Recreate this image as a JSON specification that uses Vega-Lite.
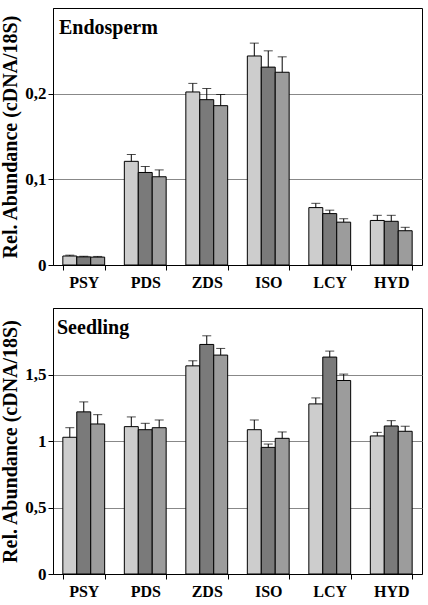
{
  "$schema": "https://vega.github.io/schema/vega-lite/v6.json",
  "padding": {"top": 7, "left": 0, "right": 2, "bottom": 2},
  "background": "white",
  "spacing": 16,
  "config": {
    "font": "Liberation Serif",
    "view": {"stroke": "black", "strokeWidth": 1},
    "axis": {"labelFont": "Liberation Serif", "titleFont": "Liberation Serif", "labelFontWeight": "bold", "titleFontWeight": "bold", "labelColor": "black", "titleColor": "black", "domainColor": "black", "tickColor": "black"},
    "title": {"font": "Liberation Serif", "fontWeight": "bold", "color": "black"}
  },
  "datasets": {
    "endo": [
      {"gene": "PSY", "cond": "A", "v": 0.0105, "hi": 0.0115},
      {"gene": "PSY", "cond": "B", "v": 0.0095, "hi": 0.0102},
      {"gene": "PSY", "cond": "C", "v": 0.0092, "hi": 0.0100},
      {"gene": "PDS", "cond": "A", "v": 0.121, "hi": 0.129},
      {"gene": "PDS", "cond": "B", "v": 0.108, "hi": 0.115},
      {"gene": "PDS", "cond": "C", "v": 0.103, "hi": 0.111},
      {"gene": "ZDS", "cond": "A", "v": 0.202, "hi": 0.212},
      {"gene": "ZDS", "cond": "B", "v": 0.193, "hi": 0.206},
      {"gene": "ZDS", "cond": "C", "v": 0.186, "hi": 0.199},
      {"gene": "ISO", "cond": "A", "v": 0.244, "hi": 0.259},
      {"gene": "ISO", "cond": "B", "v": 0.231, "hi": 0.250},
      {"gene": "ISO", "cond": "C", "v": 0.225, "hi": 0.243},
      {"gene": "LCY", "cond": "A", "v": 0.067, "hi": 0.072},
      {"gene": "LCY", "cond": "B", "v": 0.060, "hi": 0.064},
      {"gene": "LCY", "cond": "C", "v": 0.050, "hi": 0.054},
      {"gene": "HYD", "cond": "A", "v": 0.052, "hi": 0.058},
      {"gene": "HYD", "cond": "B", "v": 0.051, "hi": 0.058},
      {"gene": "HYD", "cond": "C", "v": 0.040, "hi": 0.044}
    ],
    "seed": [
      {"gene": "PSY", "cond": "A", "v": 1.028, "hi": 1.10},
      {"gene": "PSY", "cond": "B", "v": 1.219, "hi": 1.294},
      {"gene": "PSY", "cond": "C", "v": 1.128, "hi": 1.198},
      {"gene": "PDS", "cond": "A", "v": 1.108, "hi": 1.181},
      {"gene": "PDS", "cond": "B", "v": 1.085, "hi": 1.133},
      {"gene": "PDS", "cond": "C", "v": 1.10, "hi": 1.158},
      {"gene": "ZDS", "cond": "A", "v": 1.565, "hi": 1.603},
      {"gene": "ZDS", "cond": "B", "v": 1.726, "hi": 1.791},
      {"gene": "ZDS", "cond": "C", "v": 1.646, "hi": 1.696},
      {"gene": "ISO", "cond": "A", "v": 1.085, "hi": 1.158},
      {"gene": "ISO", "cond": "B", "v": 0.952, "hi": 0.977},
      {"gene": "ISO", "cond": "C", "v": 1.02, "hi": 1.068},
      {"gene": "LCY", "cond": "A", "v": 1.279, "hi": 1.324},
      {"gene": "LCY", "cond": "B", "v": 1.631, "hi": 1.676},
      {"gene": "LCY", "cond": "C", "v": 1.455, "hi": 1.503},
      {"gene": "HYD", "cond": "A", "v": 1.038, "hi": 1.065},
      {"gene": "HYD", "cond": "B", "v": 1.113, "hi": 1.153},
      {"gene": "HYD", "cond": "C", "v": 1.073, "hi": 1.111}
    ]
  },
  "vconcat": [
    {
      "width": 369,
      "height": 257,
      "title": {"text": "Endosperm", "anchor": "start", "frame": "group", "orient": "top", "offset": -30, "dx": 6, "fontSize": 20},
      "data": {"name": "endo"},
      "encoding": {
        "x": {"field": "gene", "type": "nominal", "sort": ["PSY", "PDS", "ZDS", "ISO", "LCY", "HYD"], "scale": {"paddingInner": 0.32, "paddingOuter": 0.16},
          "axis": {"title": null, "labelAngle": 0, "labelFontSize": 16, "labelPadding": 4, "tickBand": "extent", "tickSize": 5}},
        "xOffset": {"field": "cond", "type": "nominal", "scale": {"paddingInner": 0, "paddingOuter": 0}}
      },
      "layer": [
        {
          "mark": {"type": "bar", "stroke": "black", "strokeWidth": 1},
          "encoding": {
            "y": {"field": "v", "type": "quantitative", "scale": {"domain": [0, 0.3], "nice": false},
              "axis": {"title": "Rel. Abundance (cDNA/18S)", "titleFontSize": 20, "titlePadding": 4, "labelFontSize": 17, "values": [0, 0.1, 0.2], "labelExpr": "datum.value == 0 ? '0' : replace(format(datum.value, '~g'), '.', ',')", "grid": true, "gridColor": "#888888", "tickSize": 5, "labelPadding": 2}},
            "fill": {"field": "cond", "type": "nominal", "scale": {"range": ["#cdcdcd", "#7a7a7a", "#9c9c9c"]}, "legend": null}
          }
        },
        {
          "mark": {"type": "rule", "color": "black", "strokeWidth": 1},
          "encoding": {"y": {"field": "v", "type": "quantitative"}, "y2": {"field": "hi"}}
        },
        {
          "mark": {"type": "tick", "color": "black", "thickness": 1, "size": 9},
          "encoding": {"y": {"field": "hi", "type": "quantitative"}}
        }
      ]
    },
    {
      "width": 369,
      "height": 266,
      "title": {"text": "Seedling", "anchor": "start", "frame": "group", "orient": "top", "offset": -30, "dx": 4, "fontSize": 20},
      "data": {"name": "seed"},
      "encoding": {
        "x": {"field": "gene", "type": "nominal", "sort": ["PSY", "PDS", "ZDS", "ISO", "LCY", "HYD"], "scale": {"paddingInner": 0.32, "paddingOuter": 0.16},
          "axis": {"title": null, "labelAngle": 0, "labelFontSize": 16, "labelPadding": 4, "tickBand": "extent", "tickSize": 5}},
        "xOffset": {"field": "cond", "type": "nominal", "scale": {"paddingInner": 0, "paddingOuter": 0}}
      },
      "layer": [
        {
          "mark": {"type": "bar", "stroke": "black", "strokeWidth": 1},
          "encoding": {
            "y": {"field": "v", "type": "quantitative", "scale": {"domain": [0, 2], "nice": false},
              "axis": {"title": "Rel. Abundance (cDNA/18S)", "titleFontSize": 20, "titlePadding": 4, "labelFontSize": 17, "values": [0, 0.5, 1, 1.5], "labelExpr": "datum.value == 0 ? '0' : replace(format(datum.value, '~g'), '.', ',')", "grid": true, "gridColor": "#888888", "tickSize": 5, "labelPadding": 2}},
            "fill": {"field": "cond", "type": "nominal", "scale": {"range": ["#cdcdcd", "#7a7a7a", "#9c9c9c"]}, "legend": null}
          }
        },
        {
          "mark": {"type": "rule", "color": "black", "strokeWidth": 1},
          "encoding": {"y": {"field": "v", "type": "quantitative"}, "y2": {"field": "hi"}}
        },
        {
          "mark": {"type": "tick", "color": "black", "thickness": 1, "size": 9},
          "encoding": {"y": {"field": "hi", "type": "quantitative"}}
        }
      ]
    }
  ]
}
